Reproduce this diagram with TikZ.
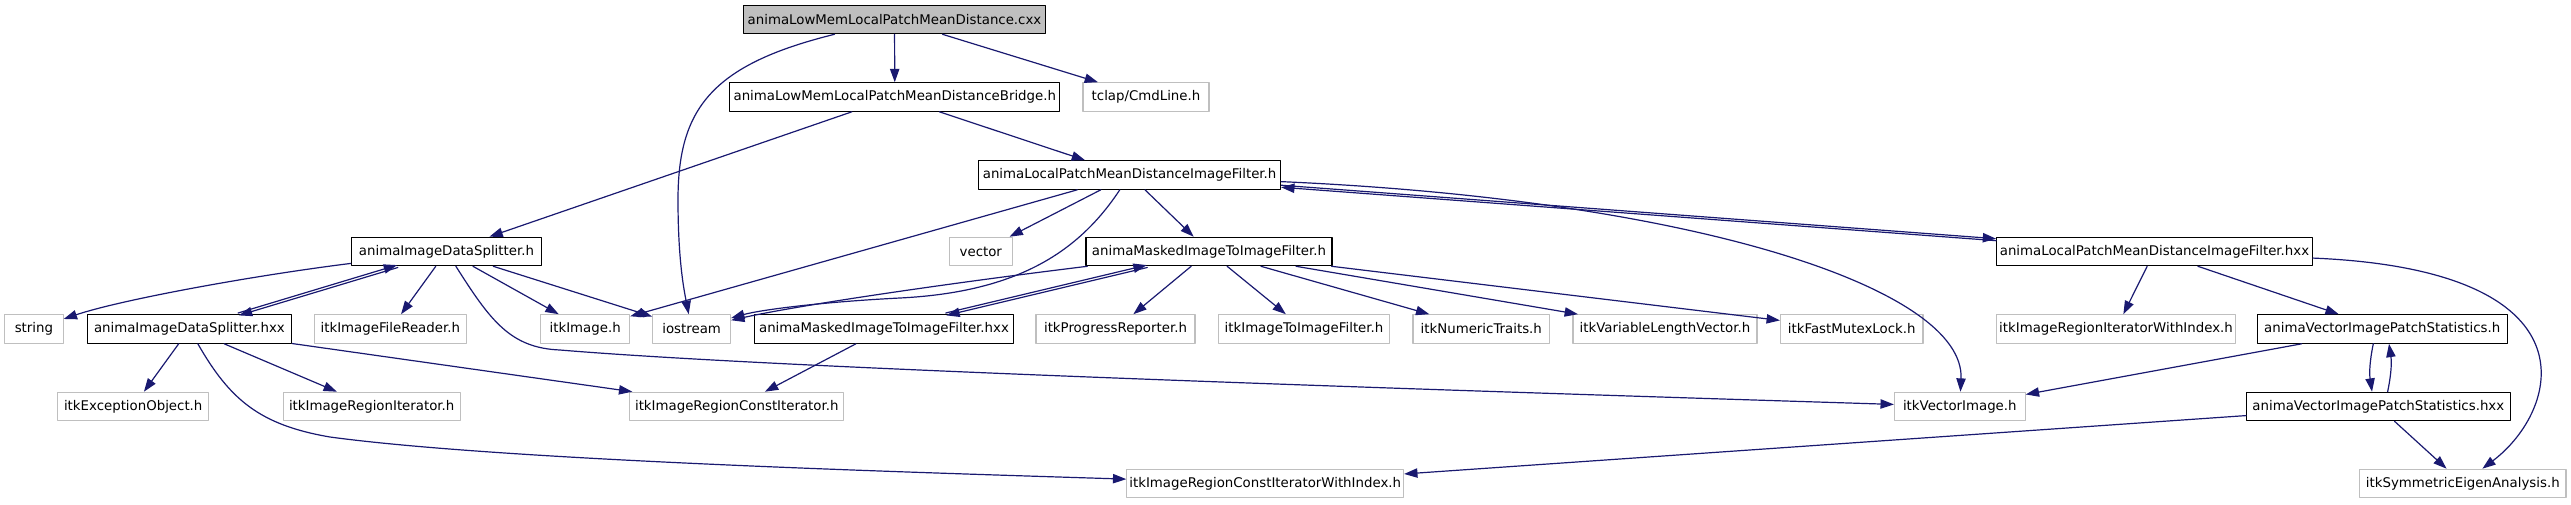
\documentclass[tikz,border=0pt]{standalone}
\usepackage{fontspec}
\setmainfont{DejaVu Sans}
\usetikzlibrary{arrows.meta}
\definecolor{edgeblue}{HTML}{191970}
\definecolor{boxgray}{HTML}{BFBFBF}

\begin{document}
\begin{tikzpicture}[x=0.75pt, y=-0.75pt, line cap=round, line join=round,
  >={Triangle[length=10pt,width=7pt]},
  srcbox/.style={draw=black, line width=0.8pt, minimum height=21.4pt, inner sep=0pt,
    font=\fontsize{10}{12}\selectfont},
  extbox/.style={srcbox, draw=boxgray},
  rootbox/.style={srcbox, fill=boxgray},
  boxw/.style={minimum width=#1*0.75pt},
  dep/.style={->, draw=edgeblue, line width=0.9pt},
  twin/.style={transform canvas={shift={(#1)}}}]
  \useasboundingbox (0,0) rectangle (2571,504);

  % Row 0 and 1
  \node[rootbox, boxw=301.7] (cxx) at (894.5,19.5) {animaLowMemLocalPatchMeanDistance.cxx};
  \node[srcbox, boxw=330] (bridge) at (894.8,97) {animaLowMemLocalPatchMeanDistanceBridge.h};
  \node[extbox, boxw=126] (tclap) at (1146,97) {tclap/CmdLine.h};

  % Row 2 and 3
  \node[srcbox, boxw=302] (lpf) at (1129.6,175) {animaLocalPatchMeanDistanceImageFilter.h};
  \node[srcbox, boxw=190.5] (splitter) at (446.5,251.5) {animaImageDataSplitter.h};
  \node[extbox, boxw=62.5] (vector) at (980.8,251.5) {vector};
  \node[srcbox, boxw=246] (masked) at (1209,251.5) {animaMaskedImageToImageFilter.h};
  \node[srcbox, boxw=315.7] (lpfhxx) at (2154.5,251.5) {animaLocalPatchMeanDistanceImageFilter.hxx};

  % Row 4
  \node[extbox, boxw=58.5] (string) at (33.9,329) {string};
  \node[srcbox, boxw=204.4] (splitterhxx) at (189.4,329) {animaImageDataSplitter.hxx};
  \node[extbox, boxw=151.6] (reader) at (390.3,329) {itkImageFileReader.h};
  \node[extbox, boxw=89] (itkimage) at (585.2,329) {itkImage.h};
  \node[extbox, boxw=78] (iostream) at (691.6,329) {iostream};
  \node[srcbox, boxw=258.5] (maskedhxx) at (884,329) {animaMaskedImageToImageFilter.hxx};
  \node[extbox, boxw=159] (progress) at (1115.5,329) {itkProgressReporter.h};
  \node[extbox, boxw=171] (i2i) at (1304,329) {itkImageToImageFilter.h};
  \node[extbox, boxw=136.6] (numeric) at (1481.3,329) {itkNumericTraits.h};
  \node[extbox, boxw=184] (varlen) at (1665,329) {itkVariableLengthVector.h};
  \node[extbox, boxw=142.5] (mutex) at (1851.7,329) {itkFastMutexLock.h};
  \node[extbox, boxw=238.5] (riteridx) at (2116,329) {itkImageRegionIteratorWithIndex.h};
  \node[srcbox, boxw=249.8] (vips) at (2382.2,329) {animaVectorImagePatchStatistics.h};

  % Row 5 and 6
  \node[extbox, boxw=151.5] (exception) at (133.2,406.5) {itkExceptionObject.h};
  \node[extbox, boxw=177.3] (regiter) at (371.7,406.5) {itkImageRegionIterator.h};
  \node[extbox, boxw=214] (constiter) at (736.8,406.5) {itkImageRegionConstIterator.h};
  \node[extbox, boxw=130.8] (vecimg) at (1959.8,406.5) {itkVectorImage.h};
  \node[srcbox, boxw=263.5] (vipshxx) at (2378.3,406.5) {animaVectorImagePatchStatistics.hxx};
  \node[extbox, boxw=276.8] (constiteridx) at (1265.2,483.5) {itkImageRegionConstIteratorWithIndex.h};
  \node[extbox, boxw=206.4] (eigen) at (2462.8,483.5) {itkSymmetricEigenAnalysis.h};

  % source file
  \draw[dep] (cxx) .. controls (710,65) and (678,110) .. (678,200)
    .. controls (678,260) and (684,290) .. (iostream);
  \draw[dep] (cxx) -- (bridge);
  \draw[dep] (cxx) -- (tclap);

  % bridge
  \draw[dep] (bridge) -- (splitter);
  \draw[dep] (bridge) -- (lpf);

  % filter header
  \draw[dep] (lpf) -- (itkimage);
  \draw[dep] (lpf) -- (vector);
  \draw[dep] (lpf) .. controls (1080,250) and (1020,292) .. (900,298)
    .. controls (820,302) and (760,310) .. (iostream);
  \draw[dep] (lpf) -- (masked);
  \draw[dep, twin={0,-1}] (lpf) -- (lpfhxx);
  \draw[dep, twin={0,1}] (lpfhxx) -- (lpf);
  \draw[dep] (lpf) .. controls (1700,200) and (1965,290) .. (vecimg);

  % splitter
  \draw[dep] (splitter) .. controls (250,276) and (120,300) .. (string);
  \draw[dep, twin={0.4,1.2}] (splitter) -- (splitterhxx);
  \draw[dep, twin={-0.4,-1.2}] (splitterhxx) -- (splitter);
  \draw[dep] (splitter) -- (reader);
  \draw[dep] (splitter) -- (itkimage);
  \draw[dep] (splitter) -- (iostream);
  \draw[dep] (splitter) .. controls (490,320) and (510,348) .. (560,350)
    .. controls (800,370) and (1500,392) .. (vecimg);
  \draw[dep] (splitterhxx) -- (exception);
  \draw[dep] (splitterhxx) -- (regiter);
  \draw[dep] (splitterhxx) -- (constiter);
  \draw[dep] (splitterhxx) .. controls (230,400) and (260,425) .. (330,437)
    .. controls (500,460) and (900,472) .. (constiteridx);

  % masked filter
  \draw[dep] (masked) .. controls (950,283) and (800,305) .. (iostream);
  \draw[dep, twin={0.3,1.2}] (masked) -- (maskedhxx);
  \draw[dep, twin={-0.3,-1.2}] (maskedhxx) -- (masked);
  \draw[dep] (masked) -- (progress);
  \draw[dep] (masked) -- (i2i);
  \draw[dep] (masked) -- (numeric);
  \draw[dep] (masked) -- (varlen);
  \draw[dep] (masked) -- (mutex);
  \draw[dep] (maskedhxx) -- (constiter);

  % filter hxx
  \draw[dep] (lpfhxx) -- (riteridx);
  \draw[dep] (lpfhxx) -- (vips);
  \draw[dep] (lpfhxx) .. controls (2600,270) and (2560,410) .. (eigen);

  % patch statistics
  \draw[dep] (vips) -- (vecimg);
  \draw[dep] ([xshift=-6.7pt]vips.south) to[bend right=10] ([xshift=-4.7pt]vipshxx.north);
  \draw[dep] ([xshift=7pt]vipshxx.north) to[bend right=10] ([xshift=5.1pt]vips.south);
  \draw[dep] (vipshxx) -- (constiteridx);
  \draw[dep] (vipshxx) -- (eigen);
\end{tikzpicture}
\end{document}
